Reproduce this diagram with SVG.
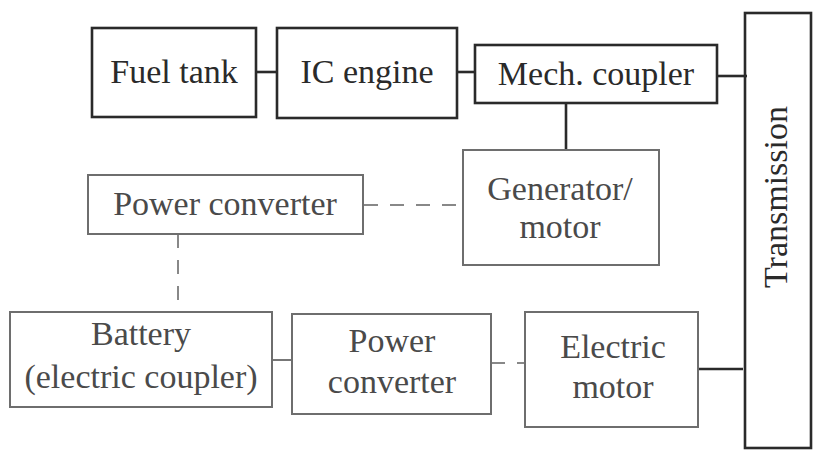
<svg xmlns="http://www.w3.org/2000/svg" width="819" height="460" viewBox="0 0 819 460">
<style>
.bd{fill:none;stroke:#2a2a2a;stroke-width:2.6}
.bl{fill:none;stroke:#6e6e6e;stroke-width:2}
.cd{stroke:#2a2a2a;stroke-width:2.6;fill:none}
.cl{stroke:#777;stroke-width:2;fill:none}
.dash{stroke:#888;stroke-width:2;fill:none;stroke-dasharray:14 12}
.td{fill:#2a2a2a}
.tl{fill:#4a4a4a}
</style>
<rect width="819" height="460" fill="#ffffff"/>
<g id="connectors">
<line class="cd" x1="256" y1="72" x2="277" y2="72"/>
<line class="cd" x1="457" y1="72" x2="475" y2="72"/>
<line class="cd" x1="717" y1="76" x2="747" y2="76"/>
<line class="cd" x1="566" y1="103" x2="566" y2="150"/>
<line class="dash" x1="364" y1="205" x2="463" y2="205"/>
<line class="dash" x1="178" y1="234" x2="178" y2="312"/>
<line class="cl" x1="272" y1="360" x2="292" y2="360"/>
<line class="dash" x1="491" y1="363" x2="525" y2="363" stroke-dasharray="10 14"/>
<line class="cd" x1="698" y1="369" x2="743" y2="369"/>
</g>
<g font-family="'Times New Roman', 'Liberation Serif', serif" font-size="34" text-anchor="middle">
<g id="fuel-tank"><rect class="bd" x="92" y="28" width="164" height="89"/><text class="td" x="174" y="83">Fuel tank</text></g>
<g id="ic-engine"><rect class="bd" x="277" y="28" width="180" height="90"/><text class="td" x="367" y="83">IC engine</text></g>
<g id="mech-coupler"><rect class="bd" x="475" y="45" width="242" height="58"/><text class="td" x="596" y="85">Mech. coupler</text></g>
<g id="generator-motor"><rect class="bl" x="463" y="150" width="196" height="115"/><text class="tl" x="560" y="200">Generator/</text><text class="tl" x="560" y="238">motor</text></g>
<g id="power-converter-1"><rect class="bl" x="88" y="175" width="275" height="59"/><text class="tl" x="225" y="215">Power converter</text></g>
<g id="battery"><rect class="bl" x="10" y="312" width="262" height="95"/><text class="tl" x="141" y="345">Battery</text><text class="tl" x="141" y="388">(electric coupler)</text></g>
<g id="power-converter-2"><rect class="bl" x="292" y="314" width="199" height="100"/><text class="tl" x="392" y="352">Power</text><text class="tl" x="392" y="393">converter</text></g>
<g id="electric-motor"><rect class="bl" x="525" y="312" width="173" height="115"/><text class="tl" x="613" y="358">Electric</text><text class="tl" x="613" y="398">motor</text></g>
<g id="transmission"><rect class="bd" x="745" y="13" width="66" height="435"/><text class="td" transform="translate(787 197) rotate(-90)" x="0" y="0">Transmission</text></g>
</g>
</svg>
